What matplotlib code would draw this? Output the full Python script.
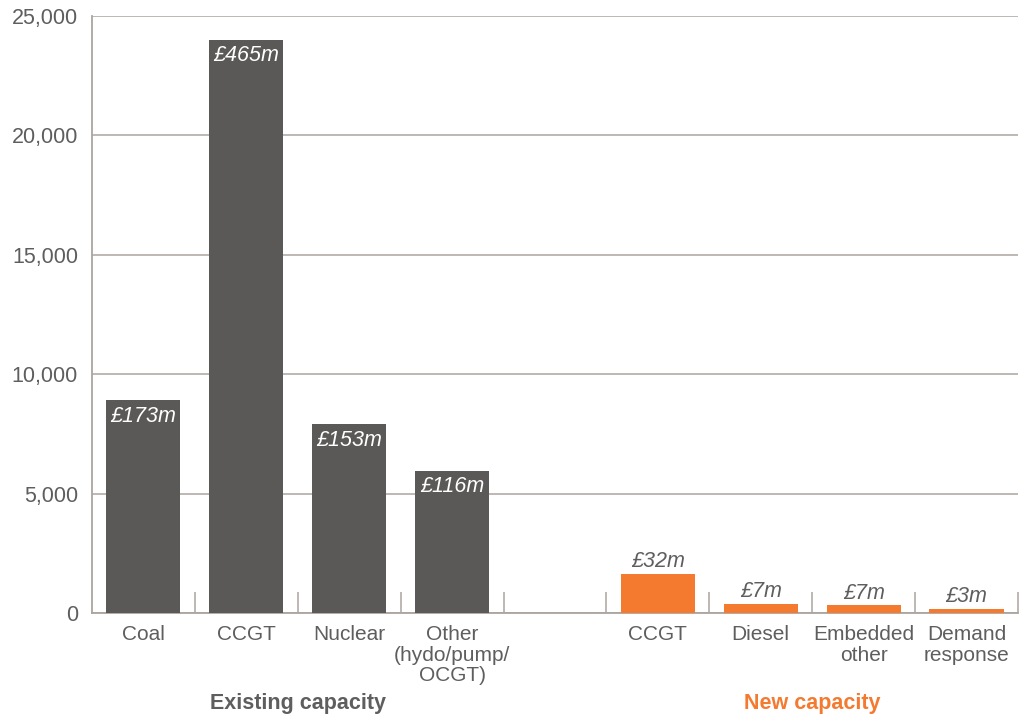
import matplotlib.pyplot as plt
import numpy as np

plt.rcParams['font.family'] = ['Liberation Sans', 'DejaVu Sans']

# capacity (MW) by technology, existing then new
existing_labels = ['Coal', 'CCGT', 'Nuclear', 'Other\n(hydo/pump/\nOCGT)']
existing_mw = [8900, 24000, 7900, 5950]
existing_cost = ['£173m', '£465m', '£153m', '£116m']

new_labels = ['CCGT', 'Diesel', 'Embedded\nother', 'Demand\nresponse']
new_mw = [1650, 380, 335, 170]
new_cost = ['£32m', '£7m', '£7m', '£3m']

yticks = [0, 5000, 10000, 15000, 20000, 25000]

dark = '#5b5957'
orange = '#f47a30'
grid = '#aba49f'
text = '#5e5e5e'

fig = plt.figure(figsize=(10.24, 7.16), dpi=100)
ax = fig.add_axes([0.0898, 0.1439, 0.9043, 0.8338])

x_old = np.arange(len(existing_mw))
x_new = np.arange(len(new_mw)) + len(existing_mw) + 1
w = 0.72

ax.bar(x_old, existing_mw, width=w, color=dark, zorder=3)
ax.bar(x_new, new_mw, width=w, color=orange, zorder=3)

# cost labels: inside the existing bars, above the new ones
for x, v, s in zip(x_old, existing_mw, existing_cost):
    ax.text(x, v - 230, s, ha='center', va='top', color='white',
            style='italic', fontsize=15.5, zorder=4)
for x, v, s in zip(x_new, new_mw, new_cost):
    ax.text(x, v + 60, s, ha='center', va='bottom', color=text,
            style='italic', fontsize=15.5, zorder=4)

ax.set_xlim(-0.5, 8.5)
ax.set_ylim(0, 25000)
ax.set_yticks(yticks)
ax.set_yticklabels(['{:,}'.format(t) for t in yticks])
ax.yaxis.grid(True, color=grid, linewidth=1.1, zorder=0)
ax.tick_params(axis='y', length=0, pad=10, labelsize=15.5, labelcolor=text)

ax.set_xticks(list(x_old) + list(x_new))
ax.set_xticklabels(existing_labels + new_labels)
ax.tick_params(axis='x', which='major', length=0, pad=9,
               labelsize=15, labelcolor=text)
for lab in ax.get_xticklabels():
    lab.set_linespacing(1.08)
ax.set_xticks(np.arange(0.5, 9, 1), minor=True)
ax.tick_params(axis='x', which='minor', direction='in', length=15,
               width=1.1, color=grid)

for side in ['top', 'right']:
    ax.spines[side].set_visible(False)
for side in ['left', 'bottom']:
    ax.spines[side].set_color(grid)
    ax.spines[side].set_linewidth(1.3)

# group headings under the category labels
ax.text(1.5, -0.151, 'Existing capacity', transform=ax.get_xaxis_transform(),
        ha='center', va='center', fontsize=15.5, fontweight='bold', color=text)
ax.text(6.5, -0.151, 'New capacity', transform=ax.get_xaxis_transform(),
        ha='center', va='center', fontsize=15.5, fontweight='bold', color=orange)

fig.savefig('out.png', dpi=100)
